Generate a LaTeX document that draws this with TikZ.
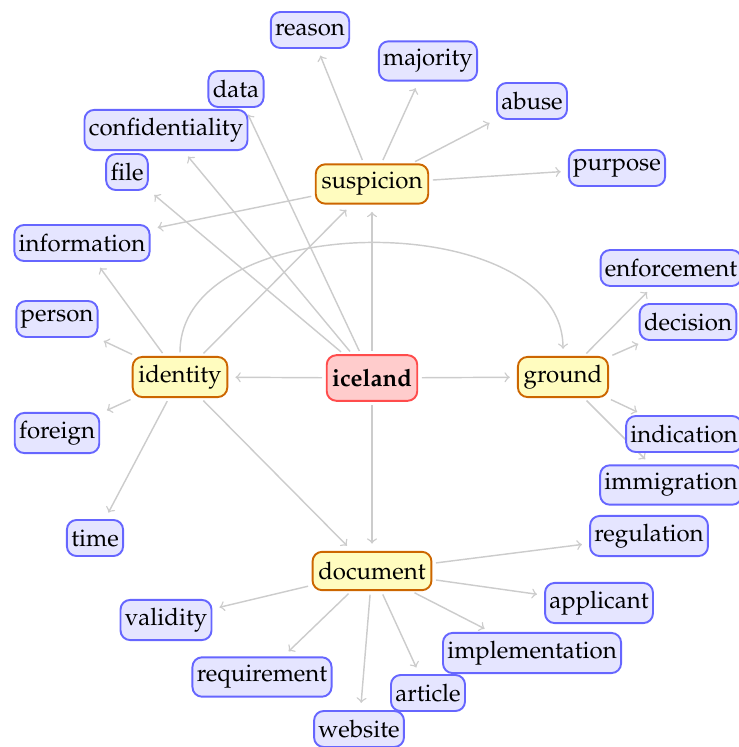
\documentclass[tikz,border=0pt]{standalone}
\usepackage[T1]{fontenc}
\usepackage{mathpazo}
\usetikzlibrary{backgrounds}

\begin{document}
\begin{tikzpicture}[x=0.4167pt,y=-0.4167pt,
    root/.style={draw=red!70,fill=red!20,rounded corners=4pt,line width=0.8pt,
                 font=\bfseries,minimum height=19pt,inner xsep=2.2pt},
    hub/.style={draw=orange!80!black,fill=yellow!25,rounded corners=4pt,
                line width=0.8pt,minimum height=16pt,inner xsep=2.4pt},
    leaf/.style={draw=blue!60,fill=blue!10,rounded corners=4pt,
                 line width=0.8pt,minimum height=15pt,inner xsep=1.8pt},
    link/.style={->,draw=black!20,line width=0.6pt,shorten <=1.5pt,shorten >=3pt}]
  \useasboundingbox (0,0) rectangle (738,747);
  % centre and hubs
  \node[root] (iceland) at (372,378) {iceland};
  \node[hub] (suspicion) at (372,184) {suspicion};
  \node[hub] (identity) at (180,377) {identity};
  \node[hub] (ground) at (563,377) {ground};
  \node[hub] (document) at (372,571) {document};
  % leaves
  \node[leaf] (reason) at (310,30) {reason};
  \node[leaf] (majority) at (428,61) {majority};
  \node[leaf] (abuse) at (532,101) {abuse};
  \node[leaf] (purpose) at (617,168) {purpose};
  \node[leaf] (data) at (236,89) {data};
  \node[leaf] (confidentiality) at (166,130) {confidentiality};
  \node[leaf] (file) at (127,172) {file};
  \node[leaf] (information) at (82,243) {information};
  \node[leaf] (person) at (57,319) {person};
  \node[leaf] (foreign) at (57,433) {foreign};
  \node[leaf] (time) at (95,538) {time};
  \node[leaf] (enforcement) at (671,268) {enforcement};
  \node[leaf] (decision) at (688,322) {decision};
  \node[leaf] (indication) at (684,434) {indication};
  \node[leaf] (immigration) at (671,485) {immigration};
  \node[leaf] (regulation) at (649,536) {regulation};
  \node[leaf] (applicant) at (599,603) {applicant};
  \node[leaf] (implementation) at (532,653) {implementation};
  \node[leaf] (article) at (428,693) {article};
  \node[leaf] (website) at (359,729) {website};
  \node[leaf] (requirement) at (262,677) {requirement};
  \node[leaf] (validity) at (166,620) {validity};
  % links
  \begin{scope}[on background layer]
    \foreach \a/\b in {iceland/suspicion,iceland/identity,iceland/ground,
        iceland/document,iceland/data,iceland/confidentiality,iceland/file,
        suspicion/reason,suspicion/majority,suspicion/abuse,
        suspicion/purpose,suspicion/information,
        identity/information,identity/person,identity/foreign,identity/time,
        identity/suspicion,identity/document,
        ground/enforcement,ground/decision,ground/indication,ground/immigration,
        document/regulation,document/applicant,document/implementation,
        document/article,document/website,document/requirement,document/validity}
      \draw[link] (\a) -- (\b);
    \draw[link] (identity) to[out=90,in=90] (ground);
  \end{scope}
\end{tikzpicture}
\end{document}
